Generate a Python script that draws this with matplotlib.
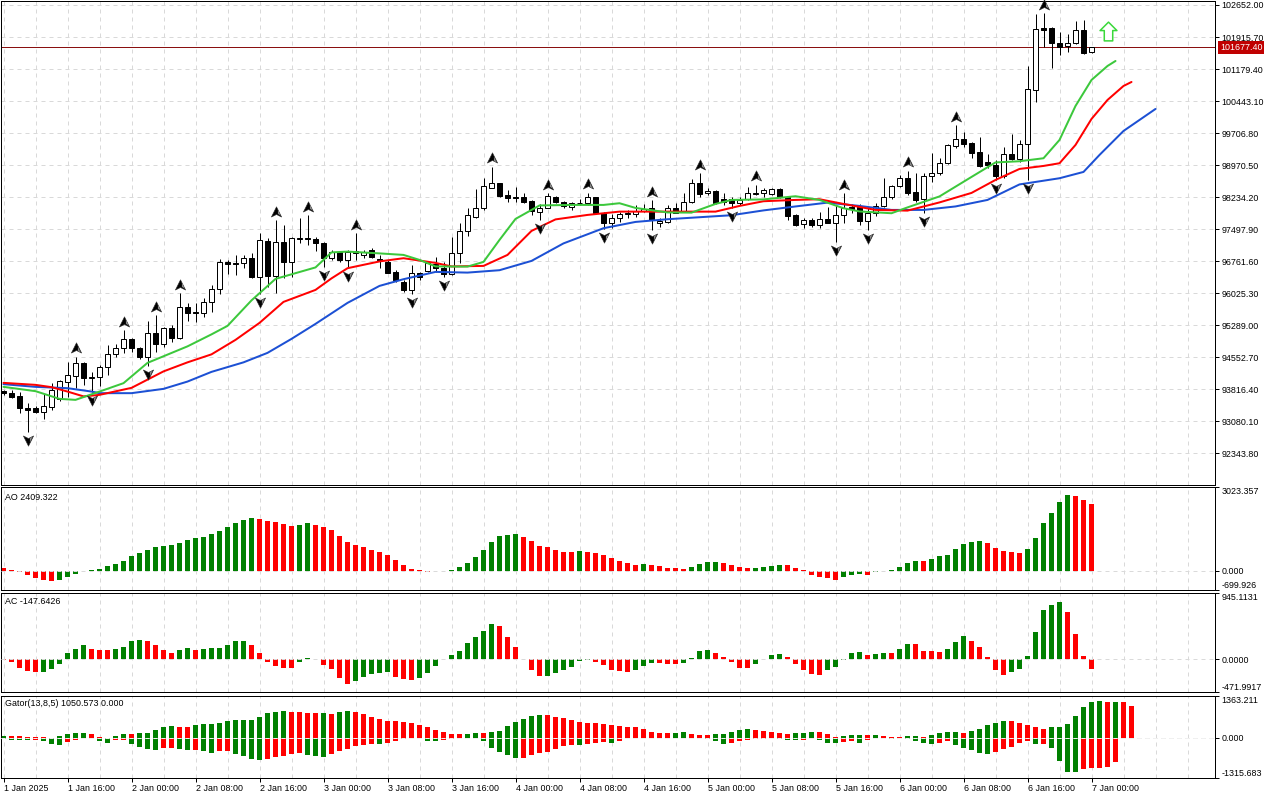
import numpy as np
import matplotlib
matplotlib.use("Agg")
import matplotlib.pyplot as plt
from matplotlib.path import Path
from matplotlib.transforms import ScaledTranslation, blended_transform_factory

# ---------------- data ----------------
open_ = [93774, 93735, 93659, 93383, 93383, 93298, 93413, 93590, 93988, 94126,
         94418, 94066, 94103, 94333, 94625, 94756, 94970, 94756, 94563, 95108,
         94855, 95223, 94986, 95713, 95598, 95561, 95814, 96120, 96748, 96725,
         96711, 96826, 96403, 97231, 96426, 97194, 96734, 97263, 97286, 97263,
         97171, 96840, 96978, 96787, 96941, 96902, 97017, 96798, 96748, 96504,
         96288, 96097, 96495, 96541, 96695, 96596, 96458, 96955, 97461, 97783,
         97976, 98450, 98551, 98282, 98243, 98243, 98144, 97898, 97976, 98243,
         98128, 98013, 98091, 98091, 98229, 97861, 97631, 97746, 97845, 97845,
         97921, 97976, 97631, 97668, 97976, 97921, 98114, 98565, 98321, 98374,
         98183, 98183, 98091, 98183, 98310, 98321, 98298, 98413, 98243, 97822,
         97615, 97707, 97592, 97730, 97645, 97822, 98013, 98013, 97691, 97861,
         98029, 98229, 98489, 98666, 98344, 98183, 98726, 98781, 99011, 99416,
         99563, 99471, 99264, 99030, 98972, 98719, 99225, 99103, 99455, 100697,
         102116, 102116, 101785, 101709, 101771, 102077, 101564]
high = [93797, 93797, 93758, 93498, 93429, 93705, 93958, 94027, 94448, 94563,
        94448, 94218, 94372, 94832, 94855, 95177, 94993, 94793, 95384, 95522,
        95253, 95292, 96028, 95798, 95798, 95913, 96212, 96810, 96787, 96902,
        96902, 96948, 97415, 97293, 97707, 97592, 97323, 97753, 97822, 97323,
        97194, 97017, 96994, 97017, 97408, 97017, 97063, 96902, 96787, 96557,
        96327, 96672, 96518, 96748, 96863, 96748, 97309, 97631, 97976, 98413,
        98666, 98933, 98565, 98397, 98473, 98335, 98167, 98068, 98321, 98259,
        98144, 98128, 98183, 98335, 98243, 97898, 97838, 97898, 97937, 98052,
        98068, 98167, 97760, 98052, 98091, 98335, 98650, 98781, 98450, 98397,
        98321, 98243, 98243, 98470, 98520, 98450, 98443, 98436, 98259, 97838,
        97746, 97746, 97898, 98013, 98052, 98321, 98075, 98075, 98013, 98091,
        98666, 98512, 98742, 98841, 98781, 98795, 99255, 99126, 99448, 99892,
        99738, 99508, 99609, 99218, 99087, 99393, 99678, 99547, 101249, 102445,
        102468, 102139, 102024, 101978, 102284, 102307, 101693]
low = [93682, 93613, 93268, 92838, 93275, 93130, 93337, 93551, 93636, 93843,
       93912, 93758, 93889, 94142, 94556, 94655, 94671, 94503, 94349, 94678,
       94793, 94908, 94963, 95384, 95368, 95483, 95598, 95998, 96465, 96442,
       96603, 96373, 96005, 96173, 96028, 96366, 96403, 97178, 97132, 96994,
       96626, 96787, 96748, 96603, 96787, 96833, 96833, 96603, 96481, 96288,
       96058, 96005, 96327, 96518, 96518, 96403, 96442, 96725, 97346, 97746,
       97937, 98436, 98243, 98128, 98128, 98091, 97822, 97707, 97976, 98105,
       97976, 97937, 98052, 98052, 97845, 97493, 97516, 97668, 97746, 97783,
       97898, 97477, 97539, 97631, 97861, 97898, 98091, 98243, 98282, 98068,
       98052, 97983, 98052, 98167, 98282, 98243, 98282, 98206, 97707, 97576,
       97530, 97553, 97516, 97631, 97208, 97645, 97861, 97592, 97477, 97799,
       98013, 98190, 98459, 98282, 98128, 97861, 98588, 98742, 98995, 99356,
       99393, 99126, 98933, 98896, 98627, 98666, 99087, 99048, 98627, 100428,
       101693, 101210, 101502, 101578, 101755, 101525, 101555]
close = [93717, 93643, 93383, 93337, 93298, 93429, 93797, 94004, 94142, 94411,
         94073, 94103, 94333, 94618, 94756, 94970, 94756, 94563, 95101, 94855,
         95223, 94993, 95713, 95575, 95561, 95821, 96120, 96748, 96695, 96695,
         96826, 96403, 97247, 96426, 97194, 96734, 97286, 97286, 97263, 97171,
         96840, 96978, 96787, 96978, 96994, 96978, 96863, 96775, 96495, 96327,
         96097, 96495, 96403, 96711, 96596, 96458, 96955, 97461, 97822, 97976,
         98489, 98551, 98259, 98220, 98220, 98128, 97914, 97976, 98259, 98128,
         98029, 98091, 98105, 98229, 97875, 97631, 97746, 97845, 97861, 97921,
         97953, 97707, 97684, 97976, 97875, 98128, 98565, 98305, 98374, 98105,
         98128, 98091, 98167, 98321, 98321, 98397, 98413, 98243, 97799, 97592,
         97707, 97592, 97730, 97645, 97822, 97976, 97953, 97691, 97861, 98029,
         98229, 98489, 98666, 98321, 98167, 98726, 98781, 99011, 99432, 99563,
         99455, 99255, 98956, 98972, 98719, 99225, 99103, 99455, 100713, 102093,
         102080, 101785, 101693, 101771, 102077, 101555, 101677.4]

fractal_up = [9, 15, 19, 22, 34, 38, 44, 61, 68, 73, 81, 87, 94, 105, 113, 119, 130]
fractal_dn = [3, 11, 18, 32, 40, 43, 51, 55, 67, 75, 81, 91, 104, 108, 115, 124, 128]

# Alligator lines (read at sampled bars, already shifted)
jaw_x = [0, 4, 8, 11, 12, 16, 20, 23, 26, 30, 33, 36, 39, 43, 47, 50, 54, 58, 62, 66,
         70, 75, 79, 83, 87, 91, 95, 99, 103, 107, 111, 115, 119, 123, 127, 132, 135,
         137, 140, 144]
jaw_y = [93928, 93866, 93836, 93758, 93721, 93721, 93820, 93988, 94211, 94430, 94648,
         94970, 95315, 95798, 96189, 96343, 96511, 96495, 96550, 96764, 97167, 97516,
         97661, 97723, 97769, 97815, 97926, 98017, 98105, 98029, 97937, 97937, 98017,
         98167, 98524, 98666, 98811, 99202, 99754, 100260]
teeth_x = [0, 4, 6, 8, 10, 12, 16, 20, 23, 26, 29, 32, 35, 39, 41, 43, 47, 50, 54, 56,
           60, 63, 66, 69, 73, 77, 81, 85, 89, 92, 95, 99, 102, 105, 109, 113, 117, 121,
           124, 127, 130, 132, 134, 136, 138, 140, 141]
teeth_y = [93958, 93912, 93859, 93758, 93647, 93682, 93843, 94222, 94430, 94614, 94947,
           95338, 95821, 96097, 96362, 96596, 96752, 96826, 96718, 96637, 96649, 96902,
           97454, 97719, 97822, 97898, 97898, 97898, 97898, 98029, 98137, 98167, 98183,
           98075, 97937, 97921, 98110, 98328, 98627, 98880, 98949, 99011, 99432, 100030,
           100467, 100789, 100881]
lips_x = [0, 4, 7, 9, 12, 15, 18, 23, 26, 28, 31, 34, 39, 41, 43, 47, 50, 52, 54, 58,
          60, 62, 64, 67, 71, 75, 77, 79, 83, 86, 89, 91, 95, 99, 102, 105, 107, 111,
          113, 117, 121, 124, 127, 130, 132, 134, 136, 138, 139]
lips_y = [93866, 93767, 93590, 93567, 93758, 93951, 94418, 94798, 95074, 95269, 95856,
          96350, 96614, 96960, 96978, 96937, 96902, 96787, 96637, 96633, 96741, 97247,
          97730, 98040, 98052, 98052, 98091, 97983, 97879, 97875, 98075, 98167, 98179,
          98252, 98167, 97976, 97902, 97861, 97995, 98248, 98696, 99030, 99057, 99126,
          99547, 100329, 100927, 101249, 101364]

ao = [97, 40, -40, -145, -266, -326, -363, -350, -218, -121,
      -24, 36, 73, 181, 254, 363, 544, 653, 762, 870,
      883, 919, 1003, 1124, 1173, 1233, 1342, 1415, 1572, 1705,
      1826, 1886, 1850, 1777, 1741, 1668, 1608, 1644, 1705, 1632,
      1560, 1451, 1269, 1052, 943, 870, 762, 665, 580, 399,
      218, 73, 10, -40, -20, -10, 36, 121, 290, 508,
      762, 1040, 1269, 1300, 1310, 1221, 1064, 883, 846, 762,
      689, 685, 695, 685, 653, 580, 471, 363, 290, 218,
      222, 218, 181, 109, 105, 73, 145, 254, 326, 330,
      290, 218, 145, 109, 112, 145, 181, 218, 214, 109,
      5, -145, -242, -278, -326, -242, -145, -121, -145, -60,
      -12, 24, 145, 290, 363, 360, 435, 520, 580, 798,
      979, 1052, 1088, 1016, 834, 725, 689, 653, 798, 1197,
      1705, 2067, 2466, 2720, 2715, 2551, 2409.322]
ac = [-10, -47, -131, -178, -192, -185, -136, -66, 84, 150,
      206, 150, 126, 124, 140, 178, 257, 267, 253, 206,
      136, 84, 131, 154, 126, 140, 154, 164, 206, 253,
      255, 206, 84, -37, -98, -126, -130, -37, 9, -5,
      -84, -136, -267, -351, -318, -262, -211, -201, -183, -253,
      -285, -304, -267, -201, -98, 5, 56, 112, 225, 309,
      407, 505, 477, 309, 168, -5, -164, -248, -239, -206,
      -164, -108, -28, -9, -37, -89, -154, -178, -180, -164,
      -94, -51, -53, -66, -68, -51, 14, 117, 131, 84,
      28, -47, -122, -124, -66, -2, 56, 70, 28, -66,
      -164, -215, -234, -164, -108, -9, 84, 98, 56, 70,
      84, 82, 140, 211, 209, 112, 110, 98, 140, 239,
      323, 253, 168, 28, -150, -225, -183, -140, 42, 393,
      702, 772, 814, 674, 365, 42, -147.6426]
gator_up = [56, 50, 45, 20, 12, 8, 5, 56, 134, 167,
            170, 134, 10, 5, 56, 134, 130, 167, 170, 268,
            335, 368, 365, 362, 400, 435, 437, 470, 536, 569,
            591, 595, 692, 804, 848, 882, 848, 845, 815, 812,
            815, 781, 848, 882, 848, 781, 680, 603, 547, 536,
            502, 469, 402, 335, 268, 201, 134, 130, 134, 167,
            165, 175, 234, 368, 502, 603, 703, 737, 735, 670,
            636, 569, 502, 469, 466, 435, 402, 368, 366, 365,
            301, 201, 167, 165, 170, 172, 134, 100, 98, 112,
            134, 201, 268, 270, 266, 234, 201, 167, 134, 167,
            170, 201, 199, 134, 33, 67, 100, 102, 98, 100,
            67, 40, 33, 67, 70, 33, 100, 167, 201, 203,
            167, 234, 301, 402, 469, 536, 533, 469, 402, 335,
            301, 335, 338, 435, 703, 1004, 1172, 1205, 1172, 1175,
            1170, 1050.573]
gator_dn = [-56, -60, -70, -80, -75, -110, -220, -225, -134, -90,
            -20, -10, -110, -156, -90, -85, -200, -300, -380, -390,
            -335, -330, -380, -390, -385, -446, -490, -446, -440, -547,
            -603, -703, -725, -703, -636, -591, -547, -513, -550, -591,
            -636, -547, -446, -357, -279, -245, -190, -195, -167, -112,
            -56, -22, -10, -112, -115, -78, -56, -5, -3, -8,
            -112, -335, -458, -558, -658, -655, -558, -491, -458, -357,
            -257, -223, -225, -190, -156, -155, -160, -123, -20, -10,
            -22, -10, -5, -22, -5, -5, -3, -2, -56, -123,
            -190, -188, -123, -89, -56, -54, -22, -56, -89, -90,
            -88, -22, -89, -156, -160, -155, -123, -156, -89, -22,
            -20, -56, -10, -56, -123, -156, -190, -188, -123, -223,
            -324, -391, -491, -525, -458, -357, -290, -156, -123, -201,
            -199, -324, -748, -1127, -1130, -1027, -993, -990, -960, -792]

signal_bar = 138
signal_price = 102050
last_price = 101677.40

price_ticks = [92343.80, 93080.10, 93816.40, 94552.70, 95289.00, 96025.30, 96761.60,
               97497.90, 98234.20, 98970.50, 99706.80, 100443.10, 101179.40,
               101915.70, 102652.00]
time_ticks = [0, 8, 16, 24, 32, 40, 48, 56, 64, 72, 80, 88, 96, 104, 112, 120, 128, 136]
time_labels = ["1 Jan 2025", "1 Jan 16:00", "2 Jan 00:00", "2 Jan 08:00", "2 Jan 16:00",
               "3 Jan 00:00", "3 Jan 08:00", "3 Jan 16:00", "4 Jan 00:00", "4 Jan 08:00",
               "4 Jan 16:00", "5 Jan 00:00", "5 Jan 08:00", "5 Jan 16:00", "6 Jan 00:00",
               "6 Jan 08:00", "6 Jan 16:00", "7 Jan 00:00"]
ao_range = (-699.926, 3023.357)
ac_range = (-471.9917, 945.1131)
gator_range = (-1315.683, 1363.211)
ao_labels = ["-699.926", "0.000", "3023.357"]
ac_labels = ["-471.9917", "0.0000", "945.1131"]
gator_labels = ["-1315.683", "0.000", "1363.211"]

# ---------------- style ----------------
W, H, DPI = 1280, 800, 100
PX = 72.0 / DPI
plt.rcParams['font.family'] = ['Liberation Sans', 'DejaVu Sans']
FS = 6.4
GRID = '#D9D9D9'
GREEN_H = '#008000'
RED_H = '#FF0000'

fig = plt.figure(figsize=(W / DPI, H / DPI), dpi=DPI, facecolor='white')


def axes_px(top, bottom, left=1, right=1215):
    return fig.add_axes([left / W, 1 - bottom / H, (right - left) / W, (bottom - top) / H])


ax = axes_px(1, 485)
ax_ao = axes_px(487, 590)
ax_ac = axes_px(593, 692)
ax_g = axes_px(696, 778)

XL = (-0.3125, 151.4375)
grid_x = np.arange(0, 152, 4)

for a in (ax, ax_ao, ax_ac, ax_g):
    a.set_xlim(*XL)
    a.set_facecolor('white')
    for s in a.spines.values():
        s.set_color('black')
        s.set_linewidth(1 * PX)
    a.vlines(grid_x, 0, 1, transform=blended_transform_factory(a.transData, a.transAxes),
             colors=GRID, linewidth=1 * PX, linestyles=(0, (4, 4)), zorder=0)
    a.yaxis.tick_right()
    a.tick_params(axis='y', direction='out', length=4 * PX, width=1 * PX, pad=2.4 * PX,
                  labelsize=FS, colors='black')
    a.tick_params(axis='x', bottom=False, labelbottom=False)

# ---------------- main price chart ----------------
ax.set_ylim(91608, 102744)
ax.set_yticks(price_ticks)
ax.set_yticklabels([f"{v:.2f}" for v in price_ticks])
for v in price_ticks:
    ax.axhline(v, color=GRID, linewidth=1 * PX, linestyle=(0, (4, 4)), zorder=0)

o = np.array(open_, float)
c = np.array(close, float)
hi = np.array(high, float)
lo = np.array(low, float)
xb = np.arange(len(o))
bull = c >= o
ax.vlines(xb, lo, hi, colors='black', linewidth=1 * PX, zorder=3)
ax.bar(xb, np.abs(c - o), bottom=np.minimum(o, c), width=0.52,
       color=np.where(bull, 'white', 'black'), edgecolor='black', linewidth=1 * PX, zorder=4)

ax.plot(jaw_x, jaw_y, color='#1C50D4', linewidth=2 * PX, zorder=5, solid_capstyle='round')
ax.plot(teeth_x, teeth_y, color='#FF0000', linewidth=2 * PX, zorder=5, solid_capstyle='round')
ax.plot(lips_x, lips_y, color='#3CC83C', linewidth=2 * PX, zorder=5, solid_capstyle='round')

# fractal arrow glyphs (black arrowhead with a lighter right facet)
C4 = [Path.MOVETO, Path.LINETO, Path.LINETO, Path.LINETO, Path.CLOSEPOLY]
C3 = [Path.MOVETO, Path.LINETO, Path.LINETO, Path.CLOSEPOLY]
up_path = Path([(0, 1), (0.9, -0.8), (0, -0.35), (-0.9, -0.8), (0, 1)], C4)
up_face = Path([(0.08, 0.55), (0.6, -0.55), (0.08, -0.28), (0.08, 0.55)], C3)
dn_path = Path([(0, -1), (0.9, 0.8), (0, 0.35), (-0.9, 0.8), (0, -1)], C4)
dn_face = Path([(0.08, -0.55), (0.6, 0.55), (0.08, 0.28), (0.08, -0.55)], C3)
up_tr = ax.transData + ScaledTranslation(0, 0.083, fig.dpi_scale_trans)
dn_tr = ax.transData + ScaledTranslation(0, -0.08, fig.dpi_scale_trans)
ax.plot(fractal_up, hi[fractal_up], linestyle='none', marker=up_path, ms=8.2,
        mfc='black', mec='#303030', mew=0.4, transform=up_tr, zorder=6, clip_on=False)
ax.plot(fractal_up, hi[fractal_up], linestyle='none', marker=up_face, ms=8.2 * 0.55 / 1.0,
        mfc='#8C8C8C', mec='none', transform=up_tr + ScaledTranslation(0.012, -0.005, fig.dpi_scale_trans),
        zorder=7, clip_on=False)
ax.plot(fractal_dn, lo[fractal_dn], linestyle='none', marker=dn_path, ms=8.2,
        mfc='black', mec='#303030', mew=0.4, transform=dn_tr, zorder=6, clip_on=False)
ax.plot(fractal_dn, lo[fractal_dn], linestyle='none', marker=dn_face, ms=8.2 * 0.55 / 1.0,
        mfc='#8C8C8C', mec='none', transform=dn_tr + ScaledTranslation(0.012, 0.005, fig.dpi_scale_trans),
        zorder=7, clip_on=False)

arrow_path = Path([(0, 1.0), (0.9, 0.1), (0.45, 0.1), (0.45, -1.0), (-0.45, -1.0),
                   (-0.45, 0.1), (-0.9, 0.1), (0, 1.0)],
                  [Path.MOVETO] + [Path.LINETO] * 6 + [Path.CLOSEPOLY])
ax.plot([signal_bar], [signal_price], linestyle='none', marker=arrow_path, ms=13.5,
        mfc='white', mec='#3AD83A', mew=1.1, zorder=6)

ax.axhline(last_price, color='#8A1010', linewidth=1 * PX, zorder=2)
ax.text(1.0 + 5 / 1214, last_price, f"{last_price:.2f}",
        transform=blended_transform_factory(ax.transAxes, ax.transData),
        ha='left', va='center', fontsize=FS, color='white', zorder=10, clip_on=False,
        bbox=dict(boxstyle='square,pad=0.22', fc='#C00000', ec='none'))


# ---------------- indicator panels ----------------
def hist_colors(vals, first, use_abs=False):
    v = np.abs(vals) if use_abs else np.asarray(vals, float)
    cols = []
    for i in range(len(v)):
        if i == 0:
            cols.append(first)
        elif v[i] > v[i - 1]:
            cols.append(GREEN_H)
        elif v[i] < v[i - 1]:
            cols.append(RED_H)
        else:
            cols.append(cols[-1])
    return cols


def setup_panel(a, rng, labels):
    a.set_ylim(*rng)
    a.set_yticks([rng[0], 0, rng[1]])
    a.set_yticklabels(labels)
    ticks = a.yaxis.get_major_ticks()
    ticks[0].label2.set_verticalalignment('bottom')
    ticks[2].label2.set_verticalalignment('top')
    a.axhline(0, color='#DADADA', linewidth=1 * PX, linestyle=(0, (4, 4)), zorder=3)


ao_v = np.array(ao, float)
ax_ao.bar(np.arange(len(ao_v)), ao_v, width=0.55, color=hist_colors(ao_v, RED_H),
          linewidth=0, zorder=2)
setup_panel(ax_ao, ao_range, ao_labels)

ac_v = np.array(ac, float)
ax_ac.bar(np.arange(len(ac_v)), ac_v, width=0.55, color=hist_colors(ac_v, RED_H),
          linewidth=0, zorder=2)
setup_panel(ax_ac, ac_range, ac_labels)

gu = np.array(gator_up, float)
gd = np.array(gator_dn, float)
ax_g.bar(np.arange(len(gu)), gu, width=0.55, color=hist_colors(gu, GREEN_H, True),
         linewidth=0, zorder=2)
ax_g.bar(np.arange(len(gd)), gd, width=0.55, color=hist_colors(gd, GREEN_H, True),
         linewidth=0, zorder=2)
setup_panel(ax_g, gator_range, gator_labels)
ax_g.axhline(0, color='#F0F0F0', linewidth=1 * PX, linestyle=(0, (4, 4)), zorder=4)

ax_g.tick_params(axis='x', bottom=True, labelbottom=True, direction='out',
                 length=4 * PX, width=1 * PX, pad=2 * PX, labelsize=FS)
ax_g.set_xticks(time_ticks)
ax_g.set_xticklabels(time_labels)
for t in ax_g.xaxis.get_major_ticks():
    t.label1.set_horizontalalignment('left')

fig.text(5 / W, 1 - 497 / H, "AO " + f"{ao[-1]:.3f}", ha='left', va='center', fontsize=FS)
fig.text(5 / W, 1 - 601 / H, "AC " + f"{ac[-1]:.4f}", ha='left', va='center', fontsize=FS)
fig.text(5 / W, 1 - 704 / H, f"Gator(13,8,5) {gator_up[-1]:.3f} 0.000", ha='left',
         va='center', fontsize=FS)

fig.savefig("out.png", dpi=DPI, facecolor='white')
